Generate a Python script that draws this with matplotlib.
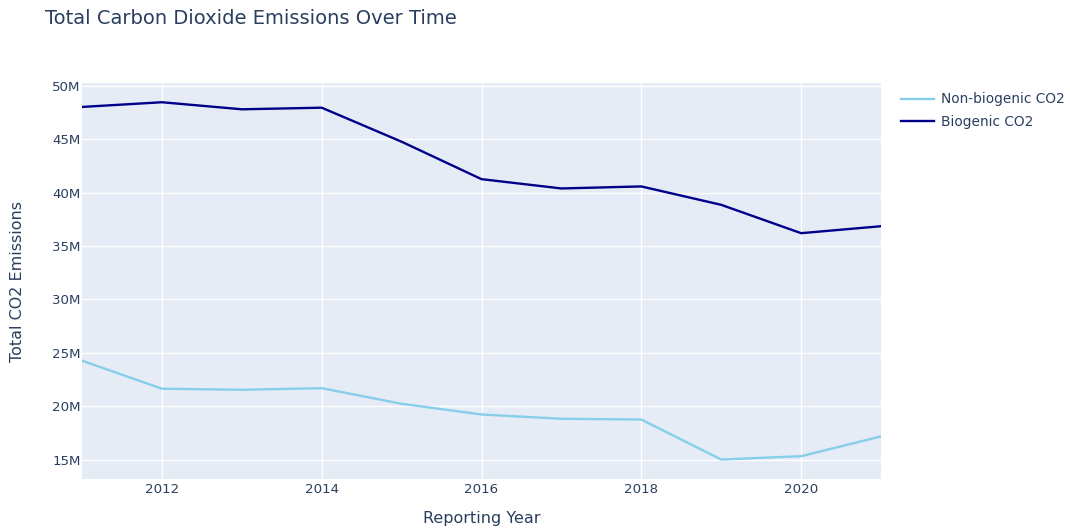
import matplotlib
matplotlib.use("Agg")
import matplotlib.pyplot as plt
from matplotlib.ticker import FuncFormatter, MultipleLocator
from matplotlib.lines import Line2D

years = [2011, 2012, 2013, 2014, 2015, 2016, 2017, 2018, 2019, 2020, 2021]
non_biogenic = [24.28e6, 21.66e6, 21.56e6, 21.71e6, 20.25e6, 19.25e6, 18.85e6, 18.78e6, 15.04e6, 15.35e6, 17.2e6]
biogenic = [48.0e6, 48.44e6, 47.78e6, 47.93e6, 44.75e6, 41.25e6, 40.38e6, 40.57e6, 38.85e6, 36.2e6, 36.85e6]
series_names = ["Non-biogenic CO2", "Biogenic CO2"]
colors = ["#87CEEB", "#00008B"]

title = "Total Carbon Dioxide Emissions Over Time"
xlabel = "Reporting Year"
ylabel = "Total CO2 Emissions"

TEXT = "#2a3f5f"
BG = "#E5ECF6"

plt.rcParams['font.family'] = ['DejaVu Sans']

W, H = 1070, 531
fig = plt.figure(figsize=(W / 100, H / 100), dpi=100)
L, R, T, B = 82, 881, 83.3, 479
ax = fig.add_axes([L / W, 1 - B / H, (R - L) / W, (B - T) / H])
ax.set_facecolor(BG)

ax.plot(years, non_biogenic, color=colors[0], lw=1.7, label=series_names[0], solid_joinstyle='round')
ax.plot(years, biogenic, color=colors[1], lw=1.7, label=series_names[1], solid_joinstyle='round')

ax.set_xlim(min(years), max(years))
lo = min(min(non_biogenic), min(biogenic))
hi = max(max(non_biogenic), max(biogenic))
rng = hi - lo
ax.set_ylim(lo - 0.0545 * rng, hi + 0.053 * rng)

ax.xaxis.set_major_locator(MultipleLocator(2))
ax.yaxis.set_major_locator(MultipleLocator(5e6))
ax.yaxis.set_major_formatter(FuncFormatter(lambda v, p: f"{v/1e6:.0f}M"))

ax.grid(True, color="white", lw=1)
ax.set_axisbelow(True)
for s in ax.spines.values():
    s.set_visible(False)
ax.tick_params(axis='both', length=0, labelsize=9.6, labelcolor=TEXT)
ax.tick_params(axis='x', pad=3)
ax.tick_params(axis='y', pad=1)

ax.set_xlabel(xlabel, fontsize=11.5, color=TEXT)
ax.xaxis.set_label_coords(0.5, (B - 519) / (B - T))
ax.xaxis.label.set_va('center')
ax.set_ylabel(ylabel, fontsize=11.5, color=TEXT)
ax.yaxis.set_label_coords((18 - L) / (R - L), 0.5)
ax.yaxis.label.set_va('center')

fig.text(45 / W, 1 - 18 / H, title, fontsize=14, color=TEXT, ha='left', va='center')

handles = [Line2D([0], [0], color=c, lw=1.7) for c in colors]
fig.legend(handles, series_names, loc='upper left', bbox_to_anchor=(901 / W, 1 - 92.5 / H),
           frameon=False, fontsize=9.9, labelcolor=TEXT, handlelength=2.4, handletextpad=0.5,
           labelspacing=0.6, borderaxespad=0, borderpad=0)

fig.savefig("out.png", dpi=100, facecolor="white")
